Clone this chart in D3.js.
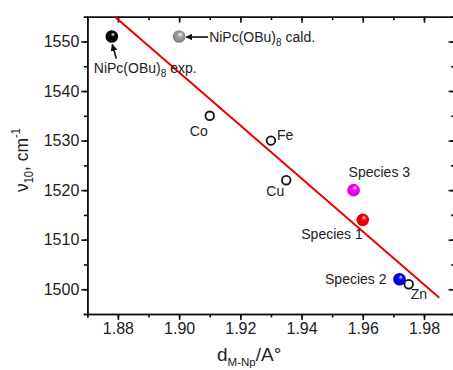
<!DOCTYPE html>
<html>
<head>
<meta charset="utf-8">
<script src="https://cdn.jsdelivr.net/npm/d3@7"></script>
<style>
  body { margin: 0; background: #fff; }
  text { font-family: "Liberation Sans", Arial, sans-serif; fill: #222; }
</style>
</head>
<body>
<svg id="chart" width="453" height="370"></svg>
<script>
// metal phthalocyanines (open circles)
const metals = ["Co", "Fe", "Cu", "Zn"];
const metalD = [1.91, 1.93, 1.935, 1.975];
const metalNu = [1535, 1530, 1522, 1501];

// shaded spheres
const sphereNames = ["NiPc(OBu)8 exp.", "NiPc(OBu)8 cald.", "Species 3", "Species 1", "Species 2"];
const sphereD = [1.878, 1.90, 1.957, 1.96, 1.972];
const sphereNu = [1551, 1551, 1520, 1514, 1502];
const sphereColors = ["#000000", "#8a8a8a", "#ff00ff", "#ff0000", "#0000ff"];

// linear fit (end points)
const fitD = [1.879, 1.985];
const fitNu = [1555, 1498.3];

const xTicks = [1.88, 1.90, 1.92, 1.94, 1.96, 1.98];
const yTicks = [1500, 1510, 1520, 1530, 1540, 1550];

const pLeft = 87.3, pRight = 454.6, pTop = 16.7, pBottom = 314;

const svg = d3.select("#chart");

const x = d3.scaleLinear().domain([1.87, 1.99]).range([pLeft, pRight]);
const y = d3.scaleLinear().domain([1495, 1555]).range([pBottom, pTop]);

const xMinor = d3.range(1.87, 1.995, 0.01).map(d => +d.toFixed(2));
const yMinor = d3.range(1495, 1556, 5);

// minor ticks first
svg.append("g").attr("transform", `translate(0,${pBottom})`)
  .call(d3.axisBottom(x).tickValues(xMinor).tickSize(3.5).tickFormat(""));
svg.append("g").attr("transform", `translate(0,${pTop})`)
  .call(d3.axisTop(x).tickValues(xMinor).tickSize(-3.5).tickFormat(""));
svg.append("g").attr("transform", `translate(${pLeft},0)`)
  .call(d3.axisLeft(y).tickValues(yMinor).tickSize(3.5).tickFormat(""));
svg.append("g").attr("transform", `translate(${pRight},0)`)
  .call(d3.axisRight(y).tickValues(yMinor).tickSize(-3.5).tickFormat(""));

// major ticks
svg.append("g").attr("class", "x axis").attr("transform", `translate(0,${pBottom})`)
  .call(d3.axisBottom(x).tickValues(xTicks).tickSize(6).tickPadding(3).tickSizeOuter(0).tickFormat(d3.format(".2f")));
svg.append("g").attr("transform", `translate(0,${pTop})`)
  .call(d3.axisTop(x).tickValues(xTicks).tickSize(-6).tickSizeOuter(0).tickFormat(""));
svg.append("g").attr("class", "y axis").attr("transform", `translate(${pLeft},0)`)
  .call(d3.axisLeft(y).tickValues(yTicks).tickSize(6).tickPadding(2).tickSizeOuter(0).tickFormat(d3.format("d")));
svg.append("g").attr("transform", `translate(${pRight},0)`)
  .call(d3.axisRight(y).tickValues(yTicks).tickSize(-6).tickSizeOuter(0).tickFormat(""));

svg.selectAll(".domain, .tick line").attr("stroke", "#111").attr("stroke-width", 1.6);
svg.selectAll(".tick text").style("font-size", "16px").style("font-family", "Liberation Sans, Arial, sans-serif").attr("fill", "#222");

// fit line
const line = d3.line().x(d => x(d[0])).y(d => y(d[1]));
svg.append("path")
  .attr("d", line(d3.zip(fitD, fitNu)))
  .attr("fill", "none").attr("stroke", "#ee0000").attr("stroke-width", 2);

// gradients for spheres
const defs = svg.append("defs");
sphereColors.forEach((c, i) => {
  const g = defs.append("radialGradient").attr("id", "sph" + i)
    .attr("cx", "0.5").attr("cy", "0.5").attr("r", "0.6")
    .attr("fx", "0.62").attr("fy", "0.3");
  g.append("stop").attr("offset", "0").attr("stop-color", "#fff");
  g.append("stop").attr("offset", "0.3").attr("stop-color", d3.color(c).brighter(0.6).formatHex());
  g.append("stop").attr("offset", "1").attr("stop-color", d3.color(c).darker(0.6).formatHex());
});

// open circles
svg.selectAll(".metal").data(metals).enter().append("circle")
  .attr("cx", (d, i) => x(metalD[i])).attr("cy", (d, i) => y(metalNu[i]))
  .attr("r", 4.3).attr("fill", "none").attr("stroke", "#111").attr("stroke-width", 1.8);

const metalOff = { Co: [-2, 20, "end"], Fe: [6, -1, "start"], Cu: [-2, 16, "end"], Zn: [2, 15, "start"] };
svg.selectAll(".mlab").data(metals).enter().append("text")
  .attr("x", (d, i) => x(metalD[i]) + metalOff[d][0])
  .attr("y", (d, i) => y(metalNu[i]) + metalOff[d][1])
  .attr("text-anchor", d => metalOff[d][2])
  .style("font-size", "14px").text(d => d);

// spheres
svg.selectAll(".sph").data(sphereNames).enter().append("circle")
  .attr("cx", (d, i) => x(sphereD[i])).attr("cy", (d, i) => y(sphereNu[i]))
  .attr("r", 6.3).attr("fill", (d, i) => `url(#sph${i})`);

// species labels
const specOff = [null, null, [-5, -13, "start"], [0, 19, "end"], [-13, 5, "end"]];
sphereNames.forEach((name, i) => {
  if (!specOff[i]) return;
  svg.append("text")
    .attr("x", x(sphereD[i]) + specOff[i][0])
    .attr("y", y(sphereNu[i]) + specOff[i][1])
    .attr("text-anchor", specOff[i][2])
    .style("font-size", "14px").text(name);
});

// NiPc(OBu)8 labels with subscript
function nipcLabel(px, py, tail) {
  const t = svg.append("text").attr("x", px).attr("y", py).style("font-size", "14px");
  t.append("tspan").text("NiPc(OBu)");
  t.append("tspan").attr("dy", 4).style("font-size", "10px").text("8");
  t.append("tspan").attr("dy", -4).text(" " + tail);
}
nipcLabel(x(sphereD[0]) - 18, y(sphereNu[0]) + 36, "exp.");
nipcLabel(x(sphereD[1]) + 30, y(sphereNu[1]) + 5, "cald.");

// arrows
defs.append("marker").attr("id", "arr").attr("viewBox", "0 0 10 10")
  .attr("refX", 9).attr("refY", 5).attr("markerWidth", 7).attr("markerHeight", 7)
  .attr("markerUnits", "userSpaceOnUse").attr("orient", "auto")
  .append("path").attr("d", "M0,0 L10,5 L0,10 z").attr("fill", "#111");

const ex = x(sphereD[0]), ey = y(sphereNu[0]);
svg.append("line").attr("x1", ex + 4.5).attr("y1", ey + 22).attr("x2", ex + 0.5).attr("y2", ey + 8)
  .attr("stroke", "#111").attr("stroke-width", 1.6).attr("marker-end", "url(#arr)");
const cx0 = x(sphereD[1]), cy0 = y(sphereNu[1]);
svg.append("line").attr("x1", cx0 + 29).attr("y1", cy0 + 0.5).attr("x2", cx0 + 7).attr("y2", cy0 + 0.5)
  .attr("stroke", "#111").attr("stroke-width", 1.6).attr("marker-end", "url(#arr)");

// axis titles
const xt = svg.append("text").attr("x", 217).attr("y", 361).style("font-size", "19px");
xt.append("tspan").text("d");
xt.append("tspan").attr("dy", 5).style("font-size", "11.5px").text("M-Np");
xt.append("tspan").attr("dy", -5).text("/A°");

const yt = svg.append("text").attr("transform", "translate(28,192) rotate(-90) scale(0.92,1)").style("font-size", "19px");
yt.append("tspan").text("ν");
yt.append("tspan").attr("dy", 5).style("font-size", "12px").text("10");
yt.append("tspan").attr("dy", -5).text(", cm");
yt.append("tspan").attr("dy", -8).style("font-size", "12px").text("-1");
</script>
</body>
</html>
